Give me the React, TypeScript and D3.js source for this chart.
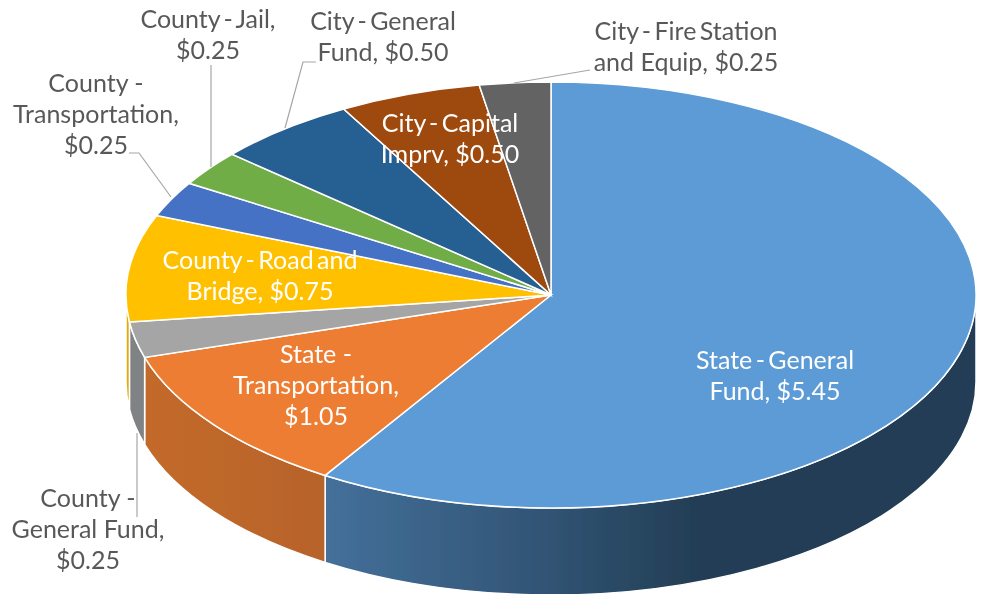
import * as d3 from 'd3'

const categories = [
  'State - General Fund',
  'State - Transportation',
  'County - General Fund',
  'County - Road and Bridge',
  'County - Transportation',
  'County - Jail',
  'City - General Fund',
  'City - Capital Imprv',
  'City - Fire Station and Equip',
]
const amounts = [5.45, 1.05, 0.25, 0.75, 0.25, 0.25, 0.5, 0.5, 0.25]
const topColors = ['#5b9bd5', '#ed7d31', '#a5a5a5', '#ffc000', '#4472c4', '#70ad47', '#255e91', '#9e480e', '#636363']
const wallColors = ['url(#wallBlue)', 'url(#wallOrange)', '#7f8386', '#e0ab12', '#35599a', '#58883a', '#1d4a72', '#7c390b', '#4e4e4e']

// label text, line by line, same order as categories
const labelLines = [
  ['State - General', 'Fund,  $5.45'],
  ['State -', 'Transportation,', '$1.05'],
  ['County -', 'General Fund,', '$0.25'],
  ['County - Road and', 'Bridge,  $0.75'],
  ['County -', 'Transportation,', '$0.25'],
  ['County - Jail,', '$0.25'],
  ['City - General', 'Fund,  $0.50'],
  ['City - Capital', 'Imprv,  $0.50'],
  ['City - Fire Station', 'and Equip,  $0.25'],
]
const labelX = [775, 316, 88, 260, 96, 208, 383, 450, 686]
const labelY = [369, 363, 507, 269, 92, 28, 30, 132, 40]
const labelInside = [true, true, false, true, false, false, false, true, false]

const leaders: [number, number][][] = [
  [[137, 433], [137, 517]],
  [[171, 197], [139, 153], [129, 153]],
  [[211, 167], [211, 65]],
  [[285, 128], [303, 62], [316, 62]],
  [[514, 83], [590, 70]],
]

const width = 986
const height = 594
const cx = 551
const cy = 295
const rx = 425
const ry = 213
const depth = 87
const lineGap = 31.2

const pieAngles = d3.pie<number>().sort(null).value((d) => d)(amounts)
const sliceArc = d3.arc<d3.PieArcDatum<number>>().innerRadius(0).outerRadius(rx)
const leaderLine = d3.line()

const px = (a: number) => cx + rx * Math.sin(a)
const py = (a: number) => cy - ry * Math.cos(a)

// the front wall of a slice, only the part between 3 and 9 o'clock shows
function wallPath(start: number, end: number) {
  const a0 = Math.max(start, Math.PI / 2)
  const a1 = Math.min(end, (3 * Math.PI) / 2)
  if (a1 <= a0) return null
  return (
    `M${px(a0)},${py(a0)}` +
    `A${rx},${ry} 0 0 1 ${px(a1)},${py(a1)}` +
    `L${px(a1)},${py(a1) + depth}` +
    `A${rx},${ry} 0 0 0 ${px(a0)},${py(a0) + depth}Z`
  )
}

export default function App() {
  return (
    <svg
      width={width}
      height={height}
      viewBox={`0 0 ${width} ${height}`}
      style={{ position: 'absolute', left: 0, top: 0, background: '#fff' }}
      fontFamily="Lato, 'Open Sans', sans-serif"
    >
      <defs>
        <linearGradient id="wallBlue" gradientUnits="userSpaceOnUse" x1={325} x2={700} y1={0} y2={0}>
          <stop offset="0" stopColor="#44709a" />
          <stop offset="0.55" stopColor="#325677" />
          <stop offset="1" stopColor="#233d54" />
        </linearGradient>
        <linearGradient id="wallOrange" gradientUnits="userSpaceOnUse" x1={143} x2={325} y1={0} y2={0}>
          <stop offset="0" stopColor="#c36a2b" />
          <stop offset="1" stopColor="#b7632a" />
        </linearGradient>
        {/* the reference is a slightly soft screenshot */}
        <filter id="soft" x="0" y="0" width="100%" height="100%">
          <feGaussianBlur stdDeviation="0.45" />
        </filter>
      </defs>

      <g filter="url(#soft)">
        <g stroke="#fff" strokeWidth={1.5}>
          {pieAngles.map((d, i) => {
            const wall = wallPath(d.startAngle, d.endAngle)
            return wall ? <path key={i} d={wall} fill={wallColors[i]} /> : null
          })}
        </g>

        <g transform={`translate(${cx},${cy}) scale(1,${ry / rx})`}>
          {pieAngles.map((d, i) => (
            <path
              key={categories[i]}
              d={sliceArc(d) ?? ''}
              fill={topColors[i]}
              stroke="#fff"
              strokeWidth={1.5}
              vectorEffect="non-scaling-stroke"
            />
          ))}
        </g>

        <g fill="none" stroke="#a6a6a6" strokeWidth={1.2}>
          {leaders.map((pts, i) => (
            <path key={i} d={leaderLine(pts) ?? ''} />
          ))}
        </g>

        <g fontSize={25} textAnchor="middle" style={{ whiteSpace: 'pre' }}>
          {labelLines.map((lines, i) => (
            <text key={i} fill={labelInside[i] ? '#fff' : '#595959'}>
              {lines.map((line, j) => (
                <tspan
                  key={j}
                  x={labelX[i]}
                  y={labelY[i] + j * lineGap}
                  wordSpacing={line.includes(' - ') ? -3 : 0}
                >
                  {line}
                </tspan>
              ))}
            </text>
          ))}
        </g>
      </g>
    </svg>
  )
}
